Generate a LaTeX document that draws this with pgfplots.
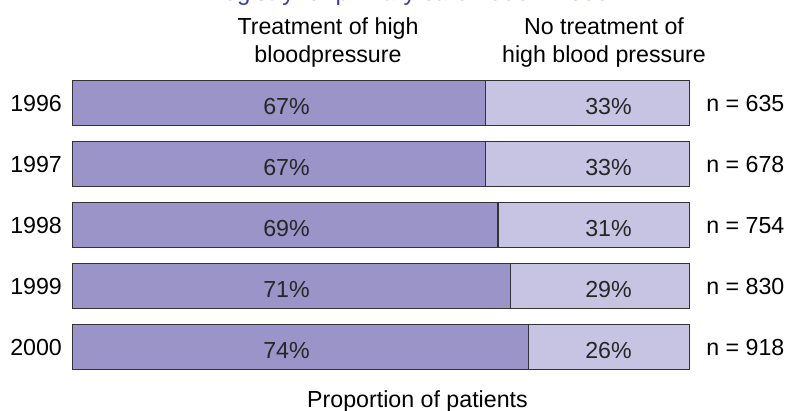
\documentclass[border=0pt]{standalone}
\usepackage{fontspec}
\setmainfont{Liberation Sans}
\usepackage{pgfplots}
\pgfplotsset{compat=1.18}
\definecolor{darkbar}{RGB}{154,148,200}
\definecolor{lightbar}{RGB}{199,196,227}
\definecolor{ttl}{RGB}{60,60,170}
\begin{document}
\begin{tikzpicture}[font=\fontsize{11.6}{13.9}\selectfont]
\begin{axis}[name=ax, scale only axis, width=308.5pt, height=152.5pt,
  xmin=0, xmax=100, ymin=-0.5, ymax=4.5, y dir=reverse,
  xbar stacked, bar width=22.5pt, axis lines=none, xtick=\empty, ytick=\empty,
  clip=false]
\addplot[fill=darkbar, draw=black!80, line width=0.6pt] coordinates {(67,0) (67,1) (69,2) (71,3) (74,4)};
\addplot[fill=lightbar, draw=black!80, line width=0.6pt] coordinates {(33,0) (33,1) (31,2) (29,3) (26,4)};
\node[anchor=east, inner sep=0pt, xshift=-5pt] at (axis cs:0,0) {1996};
\node[anchor=east, inner sep=0pt, xshift=-5pt] at (axis cs:0,1) {1997};
\node[anchor=east, inner sep=0pt, xshift=-5pt] at (axis cs:0,2) {1998};
\node[anchor=east, inner sep=0pt, xshift=-5pt] at (axis cs:0,3) {1999};
\node[anchor=east, inner sep=0pt, xshift=-5pt] at (axis cs:0,4) {2000};
\node[anchor=west, inner sep=0pt, xshift=8.3pt] at (axis cs:100,0) {n = 635};
\node[anchor=west, inner sep=0pt, xshift=8.3pt] at (axis cs:100,1) {n = 678};
\node[anchor=west, inner sep=0pt, xshift=8.3pt] at (axis cs:100,2) {n = 754};
\node[anchor=west, inner sep=0pt, xshift=8.3pt] at (axis cs:100,3) {n = 830};
\node[anchor=west, inner sep=0pt, xshift=8.3pt] at (axis cs:100,4) {n = 918};
\end{axis}
\begin{scope}[shift={(ax.south west)}, yshift=-1.8pt, every node/.style={text=black!85}]
\node at (107.1pt,137.25pt) {67\%};
\node at (107.1pt,106.75pt) {67\%};
\node at (107.1pt,76.25pt) {69\%};
\node at (107.1pt,45.75pt) {71\%};
\node at (107.1pt,15.25pt) {74\%};
\node at (268.1pt,137.25pt) {33\%};
\node at (268.1pt,106.75pt) {33\%};
\node at (268.1pt,76.25pt) {31\%};
\node at (268.1pt,45.75pt) {29\%};
\node at (268.1pt,15.25pt) {26\%};
\end{scope}
\begin{scope}[shift={(ax.south west)}]
\node[anchor=base, inner sep=0pt] at (127.85pt,171.4pt) {Treatment of high};
\node[anchor=base, inner sep=0pt] at (127.85pt,157.4pt) {bloodpressure};
\node[anchor=base, inner sep=0pt] at (265.85pt,171.4pt) {No treatment of};
\node[anchor=base, inner sep=0pt] at (265.85pt,157.4pt) {high blood pressure};
\node[anchor=base, inner sep=0pt] at (172.6pt,-14.75pt) {Proportion of patients};
\node[anchor=base west, inner sep=0pt, text=ttl, font=\fontsize{12}{14}\selectfont] at (66.85pt,188.5pt) {Registry for primary care 1996 -- 2000};
\end{scope}
\pgfresetboundingbox
\path[use as bounding box, shift={(ax.south west)}] (-36.15pt,-16.6pt) rectangle (358.85pt,188.9pt);
\end{tikzpicture}
\end{document}
